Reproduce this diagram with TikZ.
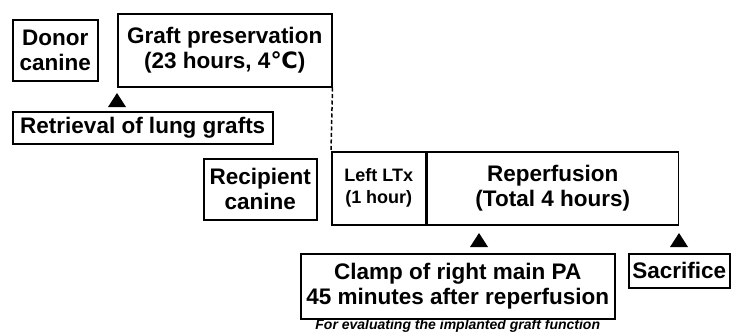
\documentclass[tikz,border=0pt]{standalone}
\usepackage{fontspec}
\setmainfont{Liberation Sans}
\newfontfamily\symfont{DejaVu Sans}

\tikzset{
    box/.style={draw, line width=1.5pt, align=center, inner sep=0pt, anchor=north west,
        font=\fontsize{22.5}{25}\selectfont\bfseries},
    smallbox/.style={box, font=\fontsize{18}{22}\selectfont\bfseries},
}

\begin{document}
\begin{tikzpicture}[x=1pt,y=-1pt]
        \useasboundingbox (0,0) rectangle (731,335);

        % donor side
        \node[box, minimum width=85pt, minimum height=61pt] (donor) at (12,19) {Donor\\canine};
        \node[box, minimum width=214pt, minimum height=73pt] (graft) at (117,13)
            {Graft preservation\\(23 hours, 4{\symfont ℃})};
        \node[box, minimum width=260pt, minimum height=32pt] (retrieval) at (12,111) {Retrieval of lung grafts};

        % recipient side
        \node[box, minimum width=113pt, minimum height=61pt] (recipient) at (203,158) {Recipient\\canine};
        \node[smallbox, minimum width=94pt, minimum height=73pt] (ltx) at (331,151) {Left LTx\\(1 hour)};
        \node[box, minimum width=251pt, minimum height=73pt] (reperf) at (ltx.north east) {Reperfusion\\(Total 4 hours)};

        \draw [line width=1.5pt, dash pattern=on 4pt off 2.5pt] (graft.south east) -- (ltx.north west);

        % events
        \node[box, minimum width=314pt, minimum height=65pt] (clamp) at (300,253)
            {Clamp of right main PA\\45 minutes after reperfusion};
        \node[box, minimum width=101pt, minimum height=34pt] (sacrifice) at (628,253) {Sacrifice};
        \node[font=\fontsize{14}{16}\selectfont\bfseries\itshape, inner sep=0pt] (note) at (clamp.south |- 0,326)
            {For evaluating the implanted graft function};

        % time marks
        \coordinate (retrievalmark) at (117,93);
        \coordinate (clampmark) at (479,233);
        \coordinate (sacrificemark) at (reperf.south east |- 0,233);
        \foreach \m in {retrievalmark, clampmark, sacrificemark}
            \fill (\m) -- ++(9,14) -- ++(-18,0) -- cycle;

    \end{tikzpicture}
\end{document}
